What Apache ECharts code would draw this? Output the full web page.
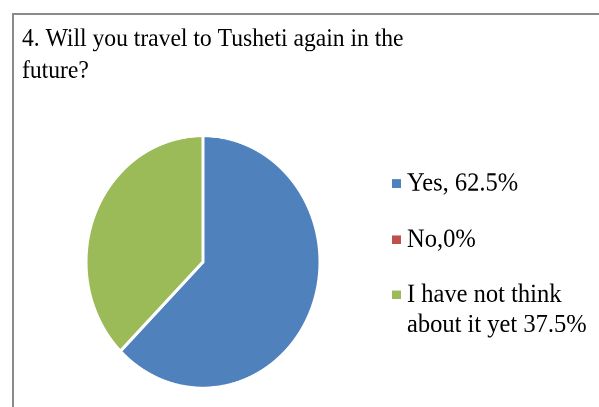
<!DOCTYPE html>
<html><head><meta charset="utf-8">
<script src="https://cdn.jsdelivr.net/npm/echarts@6/dist/echarts.min.js"></script>
<style>
html,body{margin:0;padding:0;background:#fff;overflow:hidden;width:599px;height:407px}
#wrap{width:599px;height:377px;transform:scale(1,1.08);transform-origin:0 0}
#c{width:599px;height:377px}
</style>
</head><body><div id="wrap"><div id="c"></div></div>
<script>
const titleText = "4. Will you travel to Tusheti again in the\nfuture?";
const categories = ["Yes", "No", "I have not think about it yet"];
const values = [62.5, 0, 37.5];
const legendLabels = ["Yes, 62.5%", "No,0%", "\nI have not think\nabout it yet 37.5%"];
const colors = ["#4F81BD", "#C0504D", "#9BBB59"];

const font = "'Liberation Serif', 'Times New Roman', serif";
const legendTops = [156, 208, 231];
const chart = echarts.init(document.getElementById('c'), null, {renderer: 'canvas', devicePixelRatio: 2});
const legends = categories.map((c, i) => ({
  data: [{name: c, icon: 'rect'}],
  orient: 'vertical',
  left: 390,
  top: legendTops[i],
  padding: 0,
  itemWidth: 11, itemHeight: 10, itemGap: 0,
  selectedMode: false,
  formatter: () => legendLabels[i],
  textStyle: {fontFamily: font, fontSize: 24.5, color: '#000', lineHeight: 28}
}));
chart.setOption({
  animation: false,
  color: colors,
  title: {
    text: titleText, left: 22, top: 21.5, padding: 0,
    textStyle: {fontFamily: font, fontSize: 23.6, fontWeight: 'normal', color: '#000', lineHeight: 29.6}
  },
  graphic: [{type: 'rect', shape: {x: 13, y: 13, width: 620, height: 420},
    style: {fill: 'none', stroke: '#8a8a8a', lineWidth: 2}, silent: true}],
  legend: legends,
  series: [{
    type: 'pie',
    center: [203, 242.5],
    radius: 117,
    startAngle: 90,
    clockwise: true,
    label: {show: false}, labelLine: {show: false},
    emphasis: {disabled: true},
    itemStyle: {borderColor: '#fff', borderWidth: 3},
    data: categories.map((c, i) => ({name: c, value: values[i]}))
  }]
});
</script></body></html>
